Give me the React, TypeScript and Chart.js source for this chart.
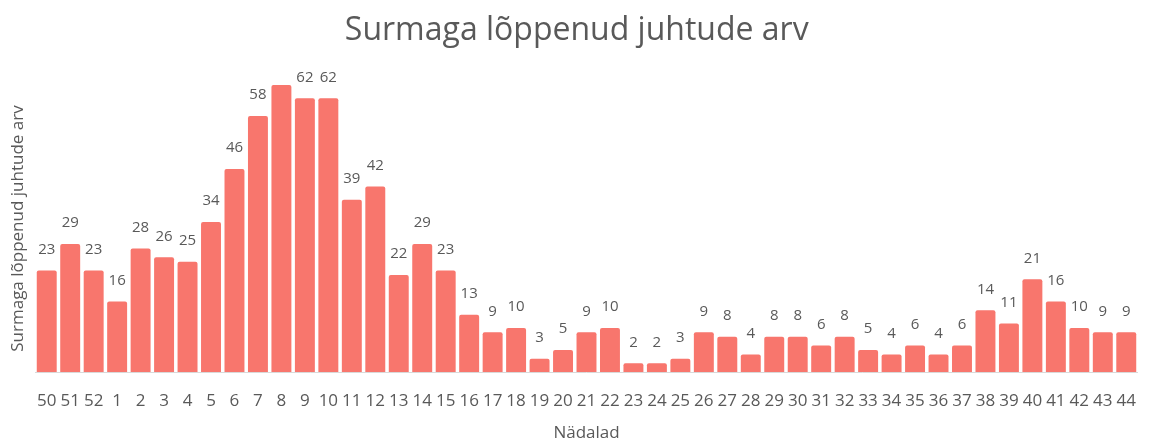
import React, { useEffect, useRef } from "react";
import { Chart, registerables } from "chart.js";

Chart.register(...registerables);

const weeks: string[] = [
  "50", "51", "52", "1", "2", "3", "4", "5", "6", "7", "8", "9", "10", "11", "12",
  "13", "14", "15", "16", "17", "18", "19", "20", "21", "22", "23", "24", "25", "26",
  "27", "28", "29", "30", "31", "32", "33", "34", "35", "36", "37", "38", "39", "40",
  "41", "42", "43", "44",
];

const deaths: number[] = [
  23, 29, 23, 16, 28, 26, 25, 34, 46, 58, 65, 62, 62, 39, 42,
  22, 29, 23, 13, 9, 10, 3, 5, 9, 10, 2, 2, 3, 9,
  8, 4, 8, 8, 6, 8, 5, 4, 6, 4, 6, 14, 11, 21,
  16, 10, 9, 9,
];

const chartTitle = "Surmaga lõppenud juhtude arv";
const yTitle = "Surmaga lõppenud juhtude arv";
const xTitle = "Nädalad";

const TEXT = "#595959";
const FONT = "'Open Sans', sans-serif";

const labelPlugin = {
  id: "barValueLabels",
  afterDatasetsDraw(chart: any) {
    const ctx = chart.ctx;
    const meta = chart.getDatasetMeta(0);
    const data = chart.data.datasets[0].data as number[];
    const maxVal = Math.max(...data);
    ctx.save();
    ctx.font = `15px ${FONT}`;
    ctx.fillStyle = TEXT;
    ctx.textAlign = "center";
    ctx.textBaseline = "middle";
    meta.data.forEach((bar: any, i: number) => {
      if (data[i] === maxVal) return;
      ctx.fillText(String(data[i]), bar.x, bar.y - 21);
    });
    ctx.restore();
  },
};

export default function App() {
  const ref = useRef<HTMLCanvasElement | null>(null);

  useEffect(() => {
    document.body.style.margin = "0";
    if (!ref.current) return;
    const chart = new Chart(ref.current, {
      type: "bar",
      data: {
        labels: weeks,
        datasets: [
          {
            data: deaths,
            backgroundColor: "#F8766D",
            borderWidth: 0,
            borderRadius: 2,
            categoryPercentage: 1,
            barPercentage: 0.85,
          },
        ],
      },
      options: {
        animation: false,
        responsive: false,
        maintainAspectRatio: false,
        layout: { padding: { left: 0, right: 1.5, top: 0, bottom: 0 } },
        plugins: {
          legend: { display: false },
          tooltip: { enabled: false },
          title: {
            display: true,
            text: chartTitle,
            color: TEXT,
            font: { family: FONT, size: 32, weight: "normal", lineHeight: 1.2 },
            padding: { top: 12, bottom: 34.6 },
          },
        },
        scales: {
          x: {
            grid: { display: false, drawTicks: false },
            border: { display: true, color: "#d9d9d9", width: 1 },
            ticks: {
              color: TEXT,
              font: { family: FONT, size: 17, lineHeight: 1.2 },
              padding: 19,
              maxRotation: 0,
              autoSkip: false,
            },
            title: {
              display: true,
              text: xTitle,
              color: TEXT,
              font: { family: FONT, size: 17, lineHeight: 1 },
              padding: { top: -5.5, bottom: 0 },
            },
          },
          y: {
            min: 0,
            max: 65,
            grid: { display: false, drawTicks: false },
            border: { display: false },
            ticks: { display: false },
            title: {
              display: true,
              text: yTitle,
              color: TEXT,
              font: { family: FONT, size: 17, lineHeight: 1 },
              padding: { top: 9.5, bottom: 8.5 },
            },
          },
        },
      },
      plugins: [labelPlugin],
    });
    return () => chart.destroy();
  }, []);

  return (
    <div style={{ width: 1155, height: 442 }}>
      <canvas ref={ref} width={1155} height={442} style={{ width: 1155, height: 442 }} />
    </div>
  );
}
